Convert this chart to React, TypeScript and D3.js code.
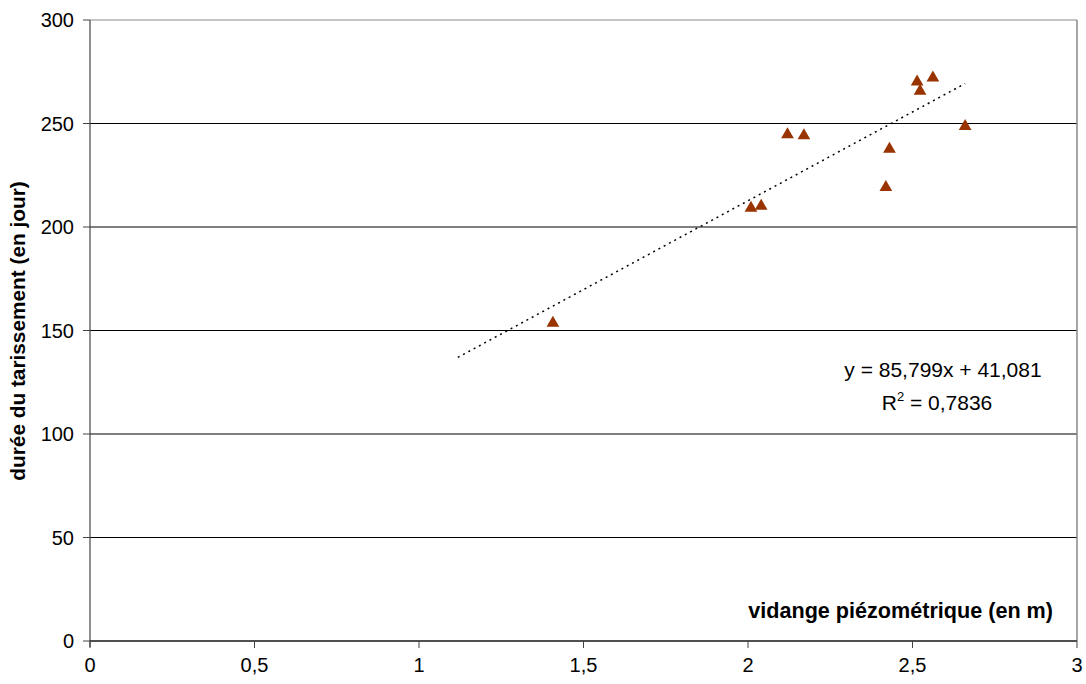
import React from "react";
import * as d3 from "d3";

const layout = {
  width: 1086,
  height: 684,
  left: 90,
  right: 1077,
  top: 20,
  bottom: 641,
};

// vidange piézométrique (m) / durée du tarissement (jours)
const vidange = [1.407, 2.009, 2.04, 2.12, 2.17, 2.419, 2.43, 2.514, 2.523, 2.562, 2.66];
const duree = [154.5, 210, 211, 245.5, 245, 220, 238.5, 271, 266.5, 273, 249.5];

const xTicks = [0, 0.5, 1, 1.5, 2, 2.5, 3];
const yTicks = [0, 50, 100, 150, 200, 250, 300];

const slope = 85.799;
const intercept = 41.081;
const trendRange = [1.118, 2.66];

const fmt = (v: number) => String(v).replace(".", ",");

const App = () => {
  const xScale = d3.scaleLinear().domain([0, 3]).range([layout.left, layout.right]);
  const yScale = d3.scaleLinear().domain([0, 300]).range([layout.bottom, layout.top]);

  const line = d3
    .line<number>()
    .x((d) => xScale(d))
    .y((d) => yScale(slope * d + intercept));

  // d3 centres the triangle on its centroid; Excel centres it on its box
  const triSize = 70;
  const triangle = d3.symbol().type(d3.symbolTriangle).size(triSize)();
  const triShift = Math.sqrt(triSize / (3 * Math.sqrt(3))) * 0.5;

  const font = "Arial, 'Liberation Sans', sans-serif";

  return (
    <div style={{ position: "absolute", left: 0, top: 0 }}>
      <svg width={layout.width} height={layout.height} style={{ display: "block", background: "#fff" }}>
        {/* gridlines */}
        {yTicks.map((t) => (
          <line
            key={"g" + t}
            x1={layout.left}
            x2={layout.right}
            y1={yScale(t)}
            y2={yScale(t)}
            stroke={t === 300 ? "#888" : "#000"}
            strokeWidth={1}
          />
        ))}
        {/* right border */}
        <line x1={layout.right} x2={layout.right} y1={layout.top} y2={layout.bottom} stroke="#888" strokeWidth={1.5} />
        {/* y axis */}
        <line x1={layout.left} x2={layout.left} y1={layout.top} y2={layout.bottom + 6} stroke="#444" strokeWidth={1.2} />
        {yTicks.map((t) => (
          <g key={"y" + t}>
            <line x1={layout.left - 7} x2={layout.left} y1={yScale(t)} y2={yScale(t)} stroke="#444" />
            <text
              x={layout.left - 16}
              y={yScale(t)}
              dy="0.36em"
              textAnchor="end"
              fontFamily={font}
              fontSize={20}
              fill="#000"
            >
              {t}
            </text>
          </g>
        ))}
        {/* x axis */}
        <line x1={layout.left} x2={layout.right} y1={layout.bottom} y2={layout.bottom} stroke="#222" strokeWidth={1.2} />
        {xTicks.map((t) => (
          <g key={"x" + t}>
            <line x1={xScale(t)} x2={xScale(t)} y1={layout.bottom} y2={layout.bottom + 7} stroke="#444" />
            <text x={xScale(t)} y={layout.bottom + 31} textAnchor="middle" fontFamily={font} fontSize={20} fill="#000">
              {fmt(t)}
            </text>
          </g>
        ))}
        {/* trendline */}
        <path d={line(trendRange) || ""} fill="none" stroke="#000" strokeWidth={1.5} strokeDasharray="2,4" />
        {/* points */}
        {vidange.map((v, i) => (
          <path
            key={"p" + i}
            d={triangle || ""}
            transform={`translate(${xScale(v)},${yScale(duree[i]) + triShift})`}
            fill="#993300"
          />
        ))}
        {/* equation */}
        <text x={943} y={377} textAnchor="middle" fontFamily={font} fontSize={21} fill="#000">
          y = 85,799x + 41,081
        </text>
        <text x={937} y={410} textAnchor="middle" fontFamily={font} fontSize={21} fill="#000">
          R<tspan dy={-9} fontSize={13}>2</tspan>
          <tspan dy={9}> = 0,7836</tspan>
        </text>
        {/* axis titles */}
        <text
          x={1053}
          y={618}
          textAnchor="end"
          fontFamily={font}
          fontSize={21.6}
          fontWeight="bold"
          fill="#000"
        >
          vidange piézométrique (en m)
        </text>
        <text
          transform={`translate(25,${331}) rotate(-90)`}
          textAnchor="middle"
          fontFamily={font}
          fontSize={20.8}
          fontWeight="bold"
          fill="#000"
        >
          durée du tarissement (en jour)
        </text>
      </svg>
    </div>
  );
};

export default App;
